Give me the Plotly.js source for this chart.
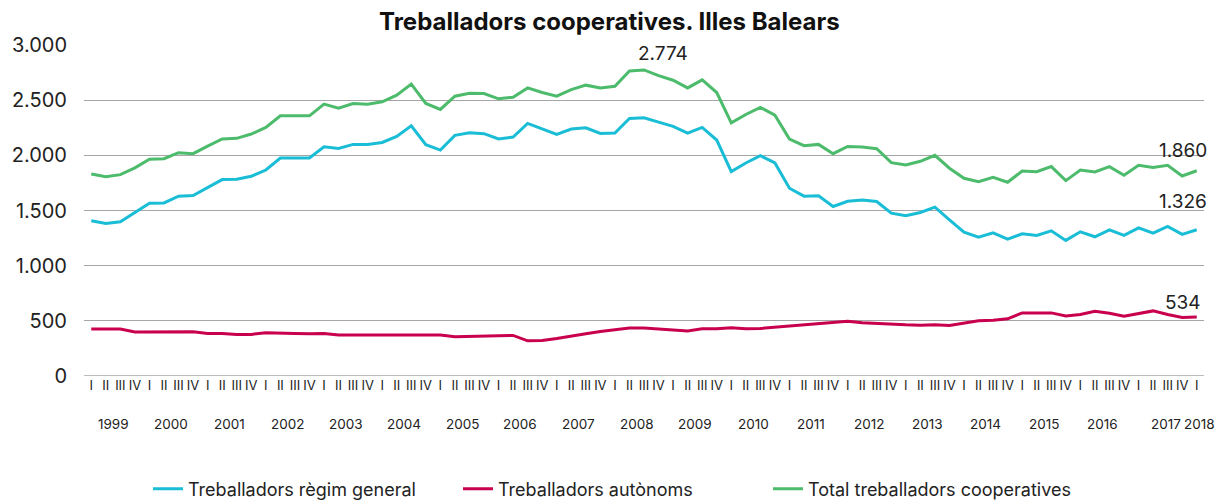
<!DOCTYPE html>
<html>
<head>
<meta charset="utf-8">
<script src="https://cdn.plot.ly/plotly-3.0.1.min.js"></script>
<style>
html,body{margin:0;padding:0;background:#fff;}
#chart{width:1226px;height:502px;}
</style>
</head>
<body>
<div id="chart"></div>
<script>
// Quarters 1999 I ... 2018 I
const years = [1999,2000,2001,2002,2003,2004,2005,2006,2007,2008,2009,2010,2011,2012,2013,2014,2015,2016,2017,2018];
const quarters = ['I','II','III','IV'];

const general = [
  1407,1383,1398,1485,1566,1569,1630,1636,1705,1780,1783,1810,1867,1976,1976,1976,
  2078,2063,2099,2099,2117,2172,2268,2096,2048,2181,2205,2196,2148,2166,2289,2238,
  2190,2238,2250,2199,2202,2334,2340,2301,2262,2202,2253,2139,1852,1931,1997,1931,
  1702,1630,1633,1536,1584,1595,1581,1476,1452,1482,1530,1416,1304,1259,1298,1241,
  1289,1274,1316,1229,1307,1262,1325,1274,1343,1295,1355,1283,1326
];
const autonoms = [
  425,425,425,398,398,401,404,401,386,386,377,377,392,392,386,383,
  386,371,371,368,368,374,374,374,371,356,359,365,371,368,319,322,
  340,359,383,404,416,434,434,425,416,407,428,428,437,428,431,443,
  449,464,473,485,497,482,476,464,464,461,464,458,482,500,506,518,
  572,575,572,545,557,587,569,542,569,590,557,530,534
];
const total = [
  1831,1807,1825,1886,1964,1970,2024,2015,2084,2148,2154,2193,2253,2358,2358,2358,
  2464,2428,2470,2464,2485,2545,2645,2470,2416,2536,2563,2560,2512,2527,2611,2569,
  2536,2596,2636,2611,2626,2765,2774,2723,2681,2611,2684,2569,2295,2370,2434,2364,
  2148,2087,2099,2015,2081,2076,2060,1934,1913,1946,2000,1883,1792,1762,1801,1756,
  1858,1852,1898,1771,1867,1849,1898,1819,1910,1889,1910,1813,1860
];
const seriesNames = ['Treballadors règim general','Treballadors autònoms','Total treballadors cooperatives'];
const yTicks = [0,500,1000,1500,2000,2500,3000];

const labels = [];
const qLabels = [];
for (const y of years) {
  for (const q of quarters) {
    if (labels.length >= general.length) break;
    labels.push(y + ' ' + q);
    qLabels.push(q);
  }
}

const fmt = v => v.toLocaleString('de-DE');
const font = 'Inter, Lato, sans-serif';

const traces = [
  {x: labels, y: general, name: seriesNames[0], type: 'scatter', mode: 'lines',
   line: {color: '#19BDD6', width: 3}},
  {x: labels, y: autonoms, name: seriesNames[1], type: 'scatter', mode: 'lines',
   line: {color: '#C8004D', width: 3}},
  {x: labels, y: total, name: seriesNames[2], type: 'scatter', mode: 'lines',
   line: {color: '#4DBB6C', width: 3}}
];

const annotations = [];
years.forEach((y, k) => {
  let xi = 4 * k + 1.5;
  if (xi > labels.length - 1) xi = labels.length - 1;
  annotations.push({
    x: xi, y: -48 / 331, xref: 'x', yref: 'paper', text: String(y),
    showarrow: false, xanchor: 'center', yanchor: 'middle',
    xshift: (y === 2017 ? 6 : (y === 2018 ? 3 : 0)),
    font: {family: font, size: 13.5, color: '#222'}
  });
});
// data labels
const maxIdx = total.indexOf(Math.max(...total));
const last = labels.length - 1;
const dl = [
  {i: maxIdx, arr: total, dx: 19, dy: 16},
  {i: last, arr: total, dx: -14, dy: 20},
  {i: last, arr: general, dx: -14, dy: 28},
  {i: last, arr: autonoms, dx: -14, dy: 15}
];
dl.forEach(d => annotations.push({
  x: d.i, y: d.arr[d.i], xref: 'x', yref: 'y', text: fmt(d.arr[d.i]),
  showarrow: false, xanchor: 'center', yanchor: 'middle',
  xshift: d.dx, yshift: d.dy,
  font: {family: font, size: 19, color: '#222'}
}));

const layout = {
  width: 1226, height: 502,
  margin: {l: 84, r: 22, t: 45, b: 126},
  paper_bgcolor: '#fff', plot_bgcolor: '#fff',
  separators: ',.',
  font: {family: font, color: '#222'},
  title: {text: '<b>Treballadors cooperatives. Illes Balears</b>',
          font: {family: font, size: 24, color: '#111'},
          x: 0.497, xanchor: 'center', y: 1 - 22 / 502, yanchor: 'middle', yref: 'container'},
  xaxis: {
    type: 'category', range: [-0.5, labels.length - 0.5],
    tickvals: labels, ticktext: qLabels, tickangle: 0,
    tickfont: {family: font, size: 13, color: '#222'},
    showgrid: false, zeroline: false, showline: false, ticks: '', ticklen: 0,
    fixedrange: true
  },
  yaxis: {
    range: [0, 3000], tickvals: yTicks, tickformat: ',d',
    tickfont: {family: font, size: 20, color: '#222'},
    gridcolor: '#a6a6a6', gridwidth: 1.3, zeroline: false, showline: false,
    ticks: '', ticklabelstandoff: 16
  },
  shapes: [{type: 'line', xref: 'paper', yref: 'y', x0: 0, x1: 1, y0: 0, y1: 0,
            line: {color: '#a6a6a6', width: 1.3}}],
  showlegend: true,
  legend: {orientation: 'h', xref: 'container', yref: 'container', x: 0.5, xanchor: 'center',
           y: 1 - 489 / 502, yanchor: 'middle', itemwidth: 30, entrywidth: 265,
           font: {family: font, size: 18, color: '#222'}},
  annotations: annotations
};

Plotly.newPlot('chart', traces, layout, {displayModeBar: false, staticPlot: true});
</script>
</body>
</html>
